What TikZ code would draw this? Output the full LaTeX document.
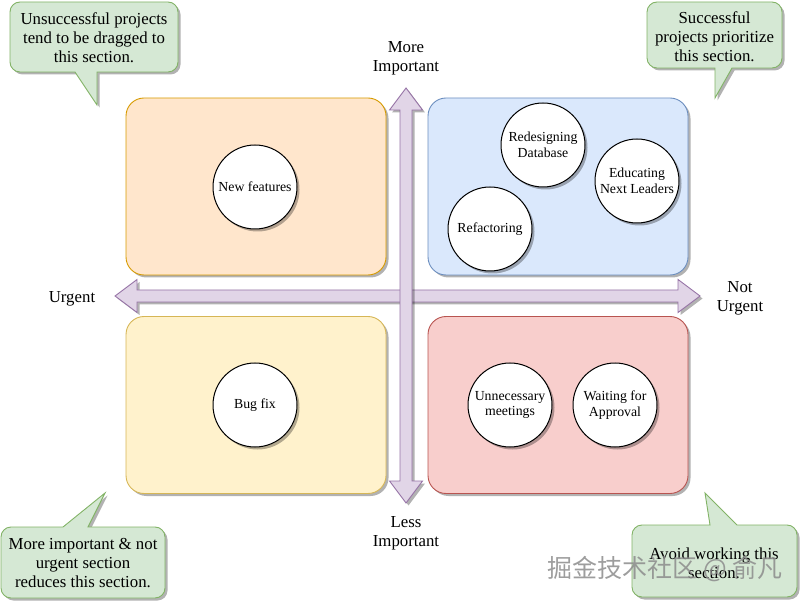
\documentclass[tikz,border=0pt]{standalone}
\usepackage{fontspec}
\setmainfont{Liberation Serif}
\newfontfamily\cjk{Noto Sans CJK SC}
\usetikzlibrary{shadows,calc}
\definecolor{qOfill}{HTML}{FFE6CC}\definecolor{qOline}{HTML}{D79B00}
\definecolor{qBfill}{HTML}{DAE8FC}\definecolor{qBline}{HTML}{6C8EBF}
\definecolor{qYfill}{HTML}{FFF2CC}\definecolor{qYline}{HTML}{D6B656}
\definecolor{qRfill}{HTML}{F8CECC}\definecolor{qRline}{HTML}{B85450}
\definecolor{cGfill}{HTML}{D5E8D4}\definecolor{cGline}{HTML}{82B366}
\definecolor{aPfill}{HTML}{E1D5E7}\definecolor{aPline}{HTML}{9673A6}
\begin{document}
\begin{tikzpicture}[x=1pt,y=-1pt,
  shad/.style={drop shadow={shadow xshift=2.5pt,shadow yshift=-2.5pt,opacity=.3,fill=black}},
  quad/.style={shad,rounded corners=18pt,minimum width=260pt,minimum height=177pt,line width=0.9pt},
  bubble/.style={shad,circle,draw=black,fill=white,line width=1pt,minimum size=84pt,inner sep=0pt,align=center,
    font=\fontsize{13.8}{15.5}\selectfont},
  callout/.style={shad,fill=cGfill,draw=cGline,line width=0.9pt},
  ctext/.style={align=center,inner sep=0pt,font=\fontsize{16.8}{19}\selectfont},
  lbl/.style={align=center,inner sep=0pt,font=\fontsize{16.8}{19}\selectfont},
  flex/.style={shad,fill=aPfill,draw=aPline,line width=0.9pt,line join=miter},
  wmark/.style={inner sep=0pt,font=\cjk\fontsize{25}{28}\selectfont}
]
\useasboundingbox (0,0) rectangle (800,601);

% quadrants
\node[quad,fill=qOfill,draw=qOline] (tl) at (256,186.5) {};
\node[quad,fill=qBfill,draw=qBline] (tr) at (558,186.5) {};
\node[quad,fill=qYfill,draw=qYline] (bl) at (256,405) {};
\node[quad,fill=qRfill,draw=qRline] (br) at (558,405) {};

% axes (double-headed flex arrows)
\coordinate (hl) at (115,296);
\coordinate (hr) at (700,296);
\coordinate (vt) at (406,88);
\coordinate (vb) at (406,503);
\draw[flex] (hl) -- ($(hl)+(22,-16.5)$) -- ($(hl)+(22,-6)$) -- ($(hr)+(-22,-6)$) -- ($(hr)+(-22,-16.5)$)
  -- (hr) -- ($(hr)+(-22,16.5)$) -- ($(hr)+(-22,6)$) -- ($(hl)+(22,6)$) -- ($(hl)+(22,16.5)$) -- cycle;
\draw[flex] (vt) -- ($(vt)+(16.5,22)$) -- ($(vt)+(6,22)$) -- ($(vb)+(6,-22)$) -- ($(vb)+(16.5,-22)$)
  -- (vb) -- ($(vb)+(-16.5,-22)$) -- ($(vb)+(-6,-22)$) -- ($(vt)+(-6,22)$) -- ($(vt)+(-16.5,22)$) -- cycle;

% circles
\node[bubble] (nf) at (255,187) {New features};
\node[bubble] (rd) at (543,145) {Redesigning\\Database};
\node[bubble] (ed) at (637,181) {Educating\\Next Leaders};
\node[bubble] (rf) at (490,229) {Refactoring};
\node[bubble] (bf) at (255,405) {Bug fix};
\node[bubble] (um) at (510,405) {Unnecessary\\meetings};
\node[bubble] (wa) at (615,405) {Waiting for\\Approval};

% axis labels
\node[lbl] (more) at (406,58) {More\\Important};
\node[lbl] (less) at (406,533) {Less\\Important};
\node[lbl] (urg) at (72,299) {Urgent};
\node[lbl] (nurg) at (740,298.5) {Not\\Urgent};

% callouts
\draw[callout] (10,37) [rounded corners=10pt] -- (10,2) -- (178,2) -- (178,72) [sharp corners] -- (97,72) -- (97,105) -- (75,72) [rounded corners=10pt] -- (10,72) -- cycle;
\node[ctext] (c1) at (94,38) {Unsuccessful projects\\tend to be dragged to\\this section.};

\draw[callout] (647,35) [rounded corners=10pt] -- (647,2) -- (782,2) -- (782,68) [sharp corners] -- (732,68) -- (715,98) -- (715,68) [rounded corners=10pt] -- (647,68) -- cycle;
\node[ctext] (c2) at (714.5,37) {Successful\\projects prioritize\\this section.};

\draw[callout] (1,562) [rounded corners=10pt] -- (1,527) [sharp corners] -- (63,527) -- (105,493) -- (88,527) [rounded corners=10pt] -- (165,527) -- (165,598) -- (1,598) -- cycle;
\node[ctext] (c3) at (83,563) {More important \& not\\urgent section\\reduces this section.};

\draw[callout] (632,561) [rounded corners=10pt] -- (632,525) [sharp corners] -- (710,525) -- (705,493) -- (737,525) [rounded corners=10pt] -- (797,525) -- (797,597) -- (632,597) -- cycle;
\node[ctext] (c4) at (714,563) {Avoid working this\\section.};

% watermark
\node[wmark,text=black!45,opacity=0.85] (wm) at (665,569) {掘金技术社区 @ 俞凡};
\end{tikzpicture}
\end{document}
